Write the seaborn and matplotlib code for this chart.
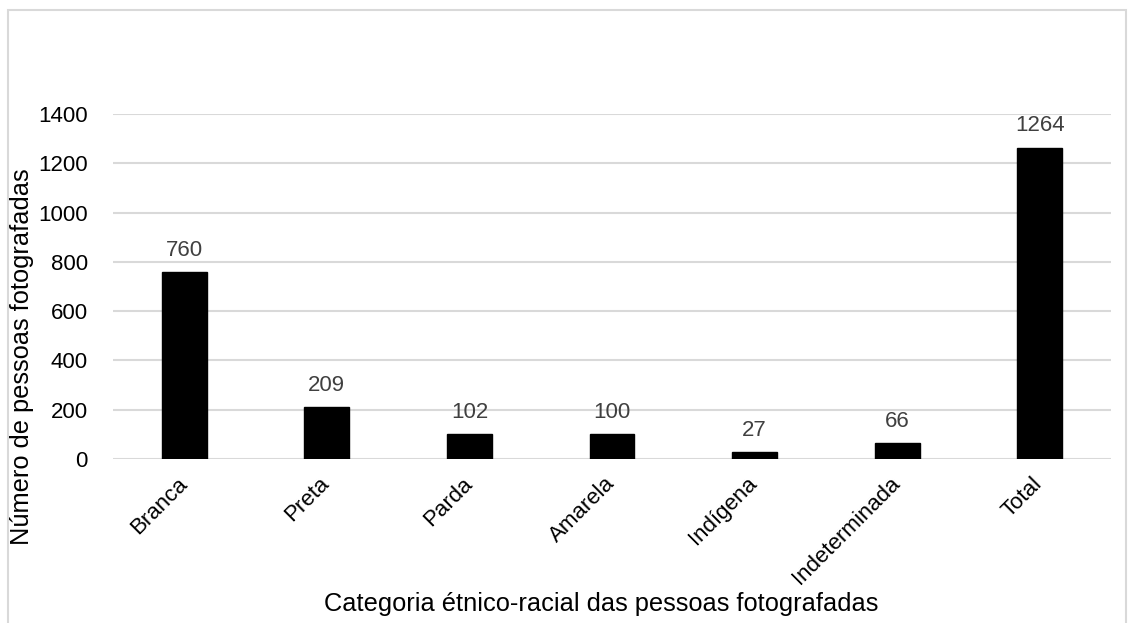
import matplotlib
matplotlib.use("Agg")
import matplotlib.pyplot as plt
import matplotlib.transforms as mtransforms
import seaborn as sns
import pandas as pd
from matplotlib.patches import Rectangle

categories = ["Branca", "Preta", "Parda", "Amarela", "Indígena", "Indeterminada", "Total"]
values = [760, 209, 102, 100, 27, 66, 1264]
yticks = [0, 200, 400, 600, 800, 1000, 1200, 1400]

sns.set_theme(style="white")
plt.rcParams['font.family'] = ['Liberation Sans', 'DejaVu Sans']

df = pd.DataFrame({"cat": categories, "val": values})

fig = plt.figure(figsize=(11.35, 6.23), dpi=100)
ax = fig.add_axes([113/1135, 1-459/623, (1111-113)/1135, (459-114)/623])

sns.barplot(data=df, x="cat", y="val", color="black", width=0.315, ax=ax,
            saturation=1, edgecolor="black")

ax.set_ylim(0, 1400)
ax.set_xlim(-0.5, len(categories)-0.5)
ax.set_yticks(yticks)
ax.set_yticklabels([str(t) for t in yticks], fontsize=16, color="black")
ax.set_xticks(range(len(categories)))
ax.set_xticklabels(categories, fontsize=16, rotation=45, ha="right", va="top",
                   rotation_mode="default", color="black")
ax.tick_params(axis="both", length=0, pad=6)
ax.tick_params(axis="y", pad=18)
offset = mtransforms.ScaledTranslation(7/100, -6/100, fig.dpi_scale_trans)
for lab in ax.get_xticklabels():
    lab.set_transform(lab.get_transform() + offset)
ax.set_axisbelow(True)
ax.yaxis.grid(True, color="#d9d9d9", linewidth=1.5)
ax.xaxis.grid(False)
for s in ax.spines.values():
    s.set_visible(False)
ax.set_xlabel("")
ax.set_ylabel("")

for i, v in enumerate(values):
    ax.annotate(str(v), (i, v), xytext=(0, 8), textcoords="offset points",
                ha="center", va="bottom", fontsize=16, color="#404040")

fig.text(22/1135, 1-357/623, "Número de pessoas fotografadas", rotation=90,
         ha="center", va="center", fontsize=18.3, color="black")
fig.text(601/1135, 1-604/623, "Categoria étnico-racial das pessoas fotografadas",
         ha="center", va="center", fontsize=18.3, color="black")

fig.patches.append(Rectangle((8/1135, -0.05), (1126-8)/1135, 1.05 - 10/623,
                             transform=fig.transFigure, fill=False,
                             edgecolor="#d9d9d9", linewidth=1.5))

fig.savefig("out.png", dpi=100)
